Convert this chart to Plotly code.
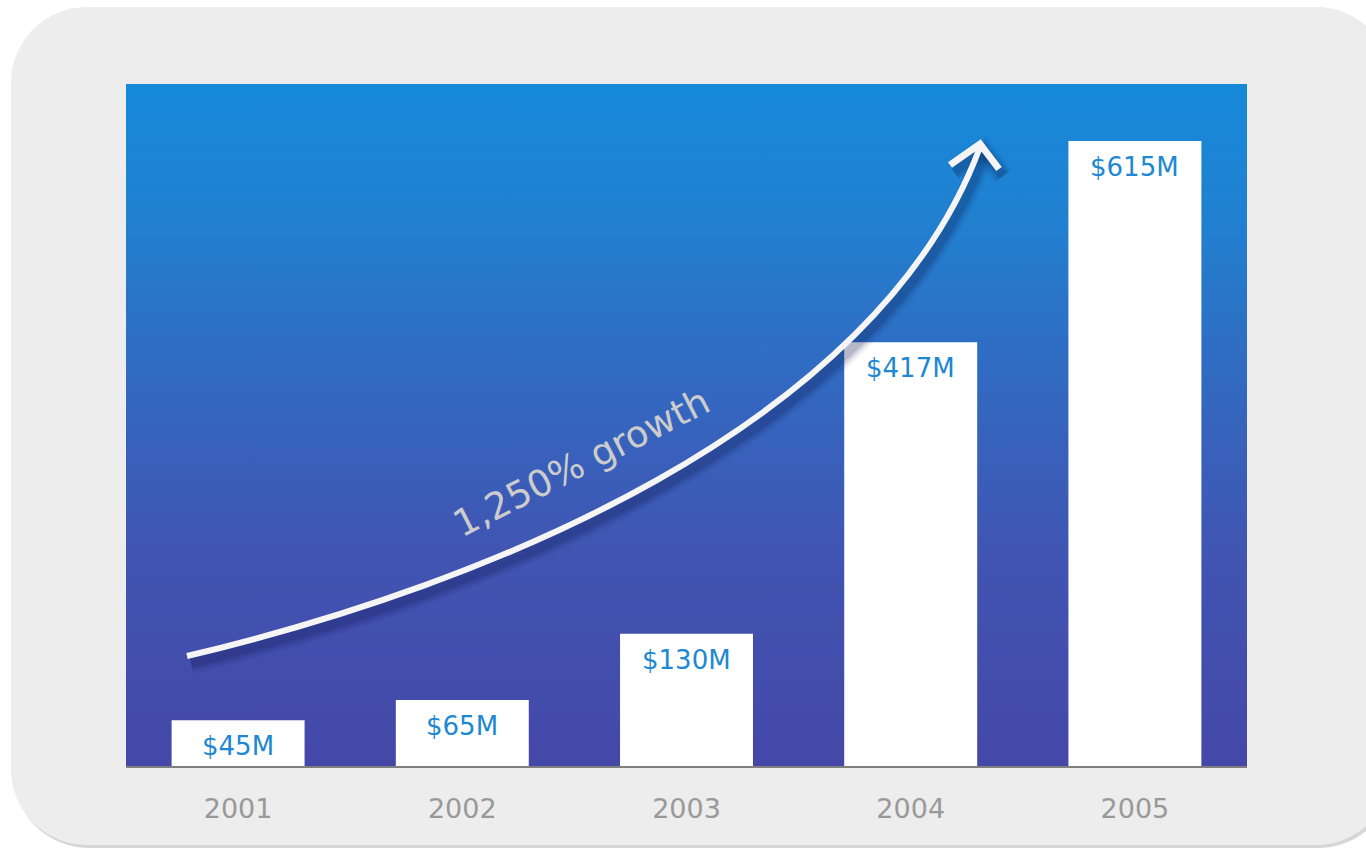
import plotly.graph_objects as go

# ---- data ----
years = ["2001", "2002", "2003", "2004", "2005"]
revenue = [45, 65, 130, 417, 615]
labels = ["$45M", "$65M", "$130M", "$417M", "$615M"]
growth_label = "1,250% growth"

# ---- geometry helpers (pixel -> paper) ----
W, H = 1366, 849
PL, PR, PT, PB = 126, 1247, 84, 766
YMAX = 671


def X(px):
    return (px - PL) / (PR - PL)


def Y(py):
    return (PB - py) / (PB - PT)


def P(px, py):
    return f"{X(px):.5f},{Y(py):.5f}"


def rrect(l, t, r, b, rad):
    k = 0.5523 * rad
    return (
        f"M {P(l + rad, t)} L {P(r - rad, t)} "
        f"C {P(r - rad + k, t)} {P(r, t + rad - k)} {P(r, t + rad)} "
        f"L {P(r, b - rad)} "
        f"C {P(r, b - rad + k)} {P(r - rad + k, b)} {P(r - rad, b)} "
        f"L {P(l + rad, b)} "
        f"C {P(l + rad - k, b)} {P(l, b - rad + k)} {P(l, b - rad)} "
        f"L {P(l, t + rad)} "
        f"C {P(l, t + rad - k)} {P(l + rad - k, t)} {P(l + rad, t)} Z"
    )


def curve(dx=0, dy=0):
    p0, p1, p2, p3 = (187, 656), (487, 585), (877, 427), (980, 147)
    return (
        f"M {P(p0[0] + dx, p0[1] + dy)} C {P(p1[0] + dx, p1[1] + dy)} "
        f"{P(p2[0] + dx, p2[1] + dy)} {P(p3[0] + dx, p3[1] + dy)}"
    )


def head(dx=0, dy=0):
    return f"M {P(950 + dx, 165 + dy)} L {P(980 + dx, 144 + dy)} L {P(999 + dx, 169 + dy)}"


fig = go.Figure()

# gradient background of plot area (on the base axes, drawn beneath the bars)
fig.add_trace(
    go.Scatter(
        x=[0, 1, 1, 0, 0],
        y=[0, 0, 1, 1, 0],
        xaxis="x",
        yaxis="y",
        fill="toself",
        mode="none",
        fillgradient=dict(
            type="vertical",
            start=0,
            stop=1,
            colorscale=[
                [0.0, "#4447a8"],
                [0.3, "#4154b1"],
                [0.55, "#3368c0"],
                [0.8, "#2180d0"],
                [1.0, "#1689d9"],
            ],
        ),
        hoverinfo="skip",
        showlegend=False,
    )
)

fig.add_trace(
    go.Bar(
        x=years,
        y=revenue,
        xaxis="x2",
        yaxis="y2",
        width=0.593,
        marker=dict(color="white", line=dict(width=0)),
        hoverinfo="skip",
        showlegend=False,
    )
)

shapes = [
    dict(type="path", xref="paper", yref="paper", path=rrect(13, 10, 1394, 848, 76),
         fillcolor="#d6d6d6", line=dict(width=0), layer="below"),
    dict(type="path", xref="paper", yref="paper", path=rrect(11, 7, 1392, 845, 76),
         fillcolor="#ededed", line=dict(width=0), layer="below"),
]
# soft arrow shadow
for w, a in [(22, 0.05), (17, 0.07), (13, 0.09), (9, 0.12)]:
    shapes.append(dict(type="path", xref="paper", yref="paper", path=curve(4, 7),
                       line=dict(color=f"rgba(10,20,70,{a})", width=w), layer="above"))
    shapes.append(dict(type="path", xref="paper", yref="paper", path=head(4, 7),
                       line=dict(color=f"rgba(10,20,70,{a})", width=w), layer="above"))
# arrow
shapes.append(dict(type="path", xref="paper", yref="paper", path=curve(),
                   line=dict(color="#f5f5f5", width=6), layer="above"))
shapes.append(dict(type="path", xref="paper", yref="paper", path=head(),
                   line=dict(color="#f5f5f5", width=7), layer="above"))

# value labels (category index on the category axis, value on the value axis)
annotations = [
    dict(
        xref="x2", yref="y2", x=i, y=v, text=lab, showarrow=False,
        xanchor="center", yanchor="middle", yshift=-26,
        font=dict(family="DejaVu Sans", size=26, color="#2088d2"),
    )
    for i, (v, lab) in enumerate(zip(revenue, labels))
]
annotations.append(
    dict(
        xref="paper", yref="paper", x=X(582), y=Y(463),
        text=growth_label, showarrow=False, textangle=-27,
        xanchor="center", yanchor="middle",
        font=dict(family="DejaVu Sans", size=37, color="#cccccc"),
    )
)

fig.update_layout(
    width=W,
    height=H,
    margin=dict(l=PL, r=W - PR, t=PT, b=H - PB, pad=0),
    paper_bgcolor="white",
    plot_bgcolor="rgba(0,0,0,0)",
    shapes=shapes,
    xaxis=dict(range=[0, 1], visible=False, fixedrange=True),
    yaxis=dict(range=[0, 1], visible=False, fixedrange=True),
    xaxis2=dict(
        overlaying="x",
        side="bottom",
        type="category",
        range=[-0.5, len(years) - 0.5],
        tickfont=dict(family="DejaVu Sans", size=27, color="#999999"),
        showline=True,
        linecolor="#7f7f7f",
        linewidth=2,
        showgrid=False,
        zeroline=False,
        ticks="",
        ticklabelstandoff=18,
        fixedrange=True,
    ),
    yaxis2=dict(overlaying="y", range=[0, YMAX], visible=False, fixedrange=True),
    annotations=annotations,
)

fig.write_html(
    "out.html",
    config={"displayModeBar": False},
    post_script="document.body.style.margin='0';document.body.style.overflow='hidden';",
)
